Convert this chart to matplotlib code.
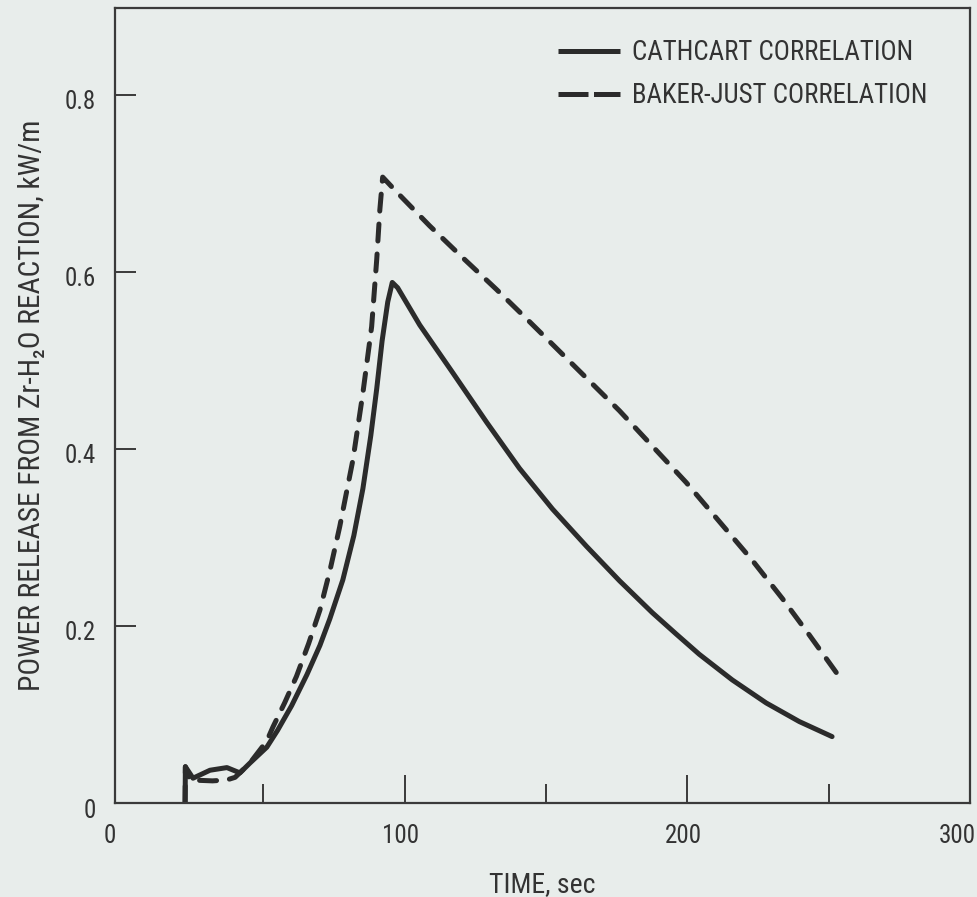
import matplotlib
matplotlib.use('Agg')
import matplotlib.pyplot as plt
from matplotlib import font_manager
from matplotlib.lines import Line2D
from matplotlib.transforms import ScaledTranslation

# curves (time in s, power in kW/m)
cathcart_t = [22.3, 22.4, 25.1, 31.1, 37.1, 41.7, 45.2, 51.2, 55.0, 60.0, 65.4, 70.0, 73.5, 78.1, 82.0,
              85.2, 88.0, 90.1, 92.0, 94.0, 95.6, 97.5, 105.3, 117.0, 129.0, 140.6, 152.3, 164.3, 176.0,
              187.6, 196.0, 204.2, 215.9, 227.9, 239.6, 251.2]
cathcart_p = [0.0, 0.041, 0.028, 0.037, 0.040, 0.034, 0.045, 0.063, 0.082, 0.110, 0.145, 0.178, 0.208, 0.252,
              0.302, 0.355, 0.415, 0.468, 0.522, 0.566, 0.588, 0.582, 0.540, 0.486, 0.430, 0.378, 0.332,
              0.290, 0.251, 0.215, 0.191, 0.168, 0.139, 0.113, 0.092, 0.075]

baker_t = [22.3, 22.4, 24.0, 32.0, 37.0, 40.0, 45.2, 51.2, 53.4, 57.5, 61.7, 66.0, 70.0, 73.5, 77.0, 81.7,
           85.2, 88.3, 90.1, 91.2, 92.2, 97.2, 108.8, 120.5, 132.5, 143.1, 152.3, 176.0, 199.6, 223.0,
           233.6, 243.1, 254.8]
baker_p = [0.0, 0.041, 0.026, 0.025, 0.026, 0.029, 0.045, 0.070, 0.086, 0.113, 0.143, 0.180, 0.218, 0.262,
           0.312, 0.388, 0.463, 0.538, 0.614, 0.670, 0.707, 0.690, 0.652, 0.616, 0.580, 0.547, 0.518,
           0.443, 0.362, 0.274, 0.231, 0.190, 0.138]

x_ticks = [0, 100, 200, 300]
x_minor = [50, 150, 250]
y_ticks = [0, 0.2, 0.4, 0.6, 0.8]
y_labels = ['0', '0.2', '0.4', '0.6', '0.8']
names = ['CATHCART CORRELATION', 'BAKER-JUST CORRELATION']
xlabel = 'TIME, sec'
ylabel = 'POWER RELEASE FROM Zr-H\u2082O REACTION, kW/m'

# the original lettering is a condensed sans, use one if there is any
fonts = font_manager.fontManager.ttflist
names_installed = {f.name for f in fonts}
family = 'DejaVu Sans'
for cand in ['Liberation Sans Narrow', 'Roboto Condensed', 'Open Sans Condensed', 'DejaVu Sans Condensed']:
    if cand in names_installed:
        family = cand
        break
else:
    if any(f.name == 'DejaVu Sans' and f.stretch == 'condensed' for f in fonts):
        plt.rcParams['font.stretch'] = 'condensed'
plt.rcParams['font.family'] = [family, 'DejaVu Sans']

ink = '#2b2b2b'
txt = '#333333'
paper = '#e8edeb'

fig = plt.figure(figsize=(9.78, 8.97), dpi=100, facecolor=paper)
ax = fig.add_axes([115 / 978, 1 - 803 / 897, 855 / 978, 795 / 897])
ax.set_facecolor(paper)
renderer = fig.canvas.get_renderer()


def fit_size(s, width_px, base=20):
    t = fig.text(0, 0, s, fontsize=base)
    w = t.get_window_extent(renderer).width
    t.remove()
    return base * width_px / w


leg_fs = fit_size(names[0], 282)
yl_fs = fit_size(ylabel, 572)
xl_fs = min(fit_size(xlabel, 107), 20)
tick_fs = 18

ax.plot(cathcart_t, cathcart_p, color=ink, lw=3.6, solid_capstyle='round', solid_joinstyle='round')
ax.plot(baker_t, baker_p, color=ink, lw=3.6, dashes=(3.4, 2.6), dash_capstyle='round',
        dash_joinstyle='round')

ax.set_xlim(-2.5, 300)
ax.set_ylim(0, 0.898)

for s in ax.spines.values():
    s.set_color('#3a3a3a')
    s.set_linewidth(1.6)

ax.set_xticks(x_ticks)
ax.set_xticklabels([str(v) for v in x_ticks])
ax.set_xticks(x_minor, minor=True)
ax.set_yticks(y_ticks)
ax.set_yticklabels(y_labels)
ax.tick_params(axis='x', which='major', direction='in', length=20, width=1.4, color='#3a3a3a',
               labelsize=tick_fs, labelcolor=txt, pad=15)
ax.tick_params(axis='x', which='minor', direction='in', length=14, width=1.4, color='#3a3a3a')
ax.tick_params(axis='y', direction='in', length=15, width=1.4, color='#3a3a3a',
               labelsize=tick_fs, labelcolor=txt, pad=14)
# no tick marks at the two ends of the time axis, only the numbers
majors = ax.xaxis.get_major_ticks()
majors[0].tick1line.set_visible(False)
majors[-1].tick1line.set_visible(False)

# hand lettering sits a little off the tick marks
for lab, dx in zip(ax.get_xticklabels(), [-12, -4, -4, -13]):
    lab.set_transform(lab.get_transform() + ScaledTranslation(dx / 100, 0, fig.dpi_scale_trans))
for lab in ax.get_yticklabels():
    lab.set_transform(lab.get_transform() + ScaledTranslation(0, -5 / 100, fig.dpi_scale_trans))

ax.set_xlabel(xlabel, fontsize=xl_fs, color=txt)
ax.xaxis.set_label_coords(0.5, (803 - 885) / 795)
ax.xaxis.label.set_va('center')
ax.set_ylabel(ylabel, fontsize=yl_fs, color=txt)
ax.yaxis.set_label_coords((46 - 115) / 855, 0.5)

handles = [Line2D([], [], color=ink, lw=3.6, solid_capstyle='butt'),
           Line2D([], [], color=ink, lw=3.6, dashes=(6.0, 1.1))]
hl = 62 / (leg_fs * 100 / 72)
ax.legend(handles, names, loc='upper left', bbox_to_anchor=(558 / 978, 1 - 39 / 897),
          bbox_transform=fig.transFigure, frameon=False, fontsize=leg_fs, handlelength=hl,
          handletextpad=12 / (leg_fs * 100 / 72), labelspacing=0.6, borderpad=0, borderaxespad=0,
          labelcolor=txt)

fig.savefig('out.png', dpi=100, facecolor=paper)
